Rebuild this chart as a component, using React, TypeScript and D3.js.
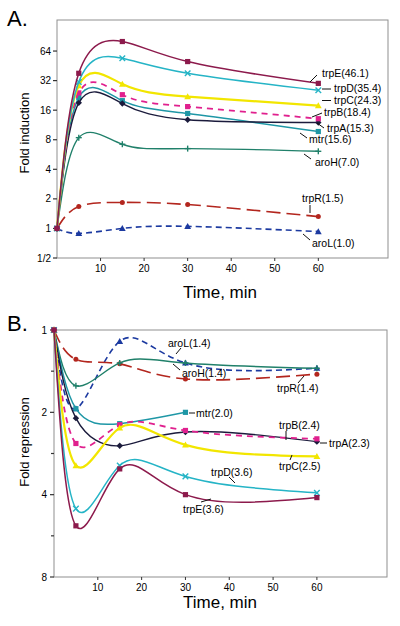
import React from 'react';
import * as d3 from 'd3';

// ---------- data ----------
const times = [0, 5, 15, 30, 60];

// Panel A: fold induction
const indTrpE = [1, 38, 80, 50, 30];
const indTrpD = [1, 31, 54, 38, 25.5];
const indTrpC = [1, 28.5, 29.5, 22, 17.8];
const indTrpB = [1, 24, 23, 17.4, 13.1];
const indTrpA = [1, 19, 18.7, 12.8, 12];
const indMtr = [1, 21.5, 20, 14.8, 9.7];
const indAroH = [1, 8.4, 7.2, 6.5, 6.1];
const indTrpR = [1, 1.67, 1.84, 1.75, 1.32];
const indAroL = [1, 0.89, 1.0, 1.05, 0.93];

// Panel B: fold repression
const repTrpE = [1, 5.2, 3.22, 4.0, 4.1];
const repTrpD = [1, 4.5, 3.13, 3.43, 3.94];
const repTrpC = [1, 3.13, 2.28, 2.63, 2.9];
const repTrpB = [1, 2.6, 2.22, 2.33, 2.5];
const repTrpA = [1, 2.1, 2.65, 2.36, 2.56];
const repMtr = [1, 1.94, 2.2, 2.0, null];
const repAroH = [1, 1.6, 1.32, 1.32, 1.38];
const repTrpR = [1, 1.28, 1.33, 1.51, 1.45];
const repAroL = [1, 1.94, 1.1, 1.32, 1.38];

const genes = ['trpE', 'trpD', 'trpC', 'trpB', 'trpA', 'mtr', 'aroH', 'trpR', 'aroL'];
const inductionSeries = [indTrpE, indTrpD, indTrpC, indTrpB, indTrpA, indMtr, indAroH, indTrpR, indAroL];
const repressionSeries = [repTrpE, repTrpD, repTrpC, repTrpB, repTrpA, repMtr, repAroH, repTrpR, repAroL];

const inductionLabels = ['trpE(46.1)', 'trpD(35.4)', 'trpC(24.3)', 'trpB(18.4)', 'trpA(15.3)', 'mtr(15.6)', 'aroH(7.0)', 'trpR(1.5)', 'aroL(1.0)'];
const repressionLabels = ['trpE(3.6)', 'trpD(3.6)', 'trpC(2.5)', 'trpB(2.4)', 'trpA(2.3)', 'mtr(2.0)', 'aroH(1.4)', 'trpR(1.4)', 'aroL(1.4)'];

const inductionTicks = [0.5, 1, 2, 4, 8, 16, 32, 64];
const inductionTickLabels = ['1/2', '1', '2', '4', '8', '16', '32', '64'];
const repressionTicks = [1, 2, 4, 8];
const repressionTickLabels = ['1', '2', '4', '8'];
const repressionMinorTicks = [Math.SQRT2, 2 * Math.SQRT2, 4 * Math.SQRT2];
const timeTicks = [10, 20, 30, 40, 50, 60];

// ---------- styles ----------
const styles: Record<string, { color: string; dash?: string; marker: string; width: number }> = {
  trpE: { color: '#8c1a4c', marker: 'square', width: 1.5 },
  trpD: { color: '#25b4c6', marker: 'x', width: 1.5 },
  trpC: { color: '#f2e600', marker: 'triangle', width: 2.2 },
  trpB: { color: '#e0208e', marker: 'square', width: 1.8, dash: '6,5' },
  trpA: { color: '#1b1b3c', marker: 'diamond', width: 1.4 },
  mtr: { color: '#1e97a6', marker: 'square', width: 1.5 },
  aroH: { color: '#20806a', marker: 'plus', width: 1.4 },
  trpR: { color: '#b3261e', marker: 'circle', width: 1.6, dash: '14,6' },
  aroL: { color: '#1c3aa0', marker: 'triangle', width: 1.6, dash: '6,4' },
};

// label layout (pixels): text anchor x, center y, leader line
const inductionLabelLayout = [
  { x: 322, y: 73, l: [310, 82, 317, 75] },
  { x: 334, y: 88.5, l: [322, 89, 331, 89] },
  { x: 334, y: 100.5, l: [322, 100.5, 331, 100.5] },
  { x: 324, y: 112.5, l: [312, 117, 322, 113] },
  { x: 327, y: 128, l: [317, 123, 324, 128] },
  { x: 309, y: 139.5, l: [300, 133, 307, 138] },
  { x: 315, y: 162, l: [304, 154, 311, 159] },
  { x: 302, y: 198, l: [310, 205, 310, 213] },
  { x: 312, y: 243, l: [303, 234, 310, 240] },
];
const repressionLabelLayout = [
  { x: 183, y: 509, l: [201, 502, 211, 499] },
  { x: 211, y: 472, l: [229, 477, 235, 483] },
  { x: 279, y: 466, l: [290, 460, 292, 455] },
  { x: 279, y: 425, l: [286, 431, 286, 440] },
  { x: 329, y: 443, l: [320, 443, 327, 443] },
  { x: 196, y: 413, l: [189, 413, 195, 413] },
  { x: 182, y: 373, l: [173, 364, 180, 370] },
  { x: 277, y: 388, l: [298, 383, 304, 376] },
  { x: 168, y: 343, l: [176, 354, 181, 348] },
];

const FONT = 'Arial, "Liberation Sans", Helvetica, sans-serif';

function Marker({ type, x, y, color }: { type: string; x: number; y: number; color: string }) {
  const s = 2.6;
  if (type === 'square') return <rect x={x - s} y={y - s} width={2 * s} height={2 * s} fill={color} />;
  if (type === 'circle') return <circle cx={x} cy={y} r={2.5} fill={color} />;
  if (type === 'diamond')
    return <path d={`M${x},${y - 3.2}L${x + 3.2},${y}L${x},${y + 3.2}L${x - 3.2},${y}Z`} fill={color} />;
  if (type === 'triangle')
    return <path d={`M${x},${y - 3.4}L${x + 3.4},${y + 2.6}L${x - 3.4},${y + 2.6}Z`} fill={color} />;
  if (type === 'x')
    return (
      <g stroke={color} strokeWidth={1.4}>
        <line x1={x - 2.8} y1={y - 2.8} x2={x + 2.8} y2={y + 2.8} />
        <line x1={x - 2.8} y1={y + 2.8} x2={x + 2.8} y2={y - 2.8} />
      </g>
    );
  return (
    <g stroke={color} strokeWidth={1.4}>
      <line x1={x - 3} y1={y} x2={x + 3} y2={y} />
      <line x1={x} y1={y - 3} x2={x} y2={y + 3} />
    </g>
  );
}

function Panel({
  x0, x1, yTop, yBottom, yDomain, reversed, series, labels, layout,
  ticks, tickLabels, minorTicks, tickLabelRight, yLabel, yLabelY, timeLabelY, letter, letterY,
}: any) {
  const x = d3.scaleLinear().domain([0, 76]).range([x0, x1]);
  const y = d3.scaleLog().base(2).domain(yDomain).range(reversed ? [yTop, yBottom] : [yBottom, yTop]);
  const axisY = yBottom;
  const line = d3
    .line<[number, number]>()
    .x((d) => x(d[0]))
    .y((d) => y(d[1]))
    .curve(d3.curveNatural);

  return (
    <g>
      <text x={7} y={letterY} fontFamily={FONT} fontSize={22}>{letter}</text>
      {/* frame */}
      <rect x={x0} y={yTop} width={x1 - x0} height={yBottom - yTop} fill="none" stroke="#8f8f8f" strokeWidth={1} />
      {/* y ticks */}
      {ticks.map((t: number, i: number) => (
        <g key={'yt' + i}>
          <line x1={x0 - 4} x2={x0} y1={y(t)} y2={y(t)} stroke="#333" strokeWidth={1.2} />
          <text x={tickLabelRight} y={y(t)} dy="0.35em" textAnchor="end" fontFamily={FONT} fontSize={10}>
            {tickLabels[i]}
          </text>
        </g>
      ))}
      {(minorTicks || []).map((t: number, i: number) => (
        <line key={'mt' + i} x1={x0 - 3} x2={x0} y1={y(t)} y2={y(t)} stroke="#333" strokeWidth={1.2} />
      ))}
      {/* x ticks */}
      {timeTicks.map((t) => (
        <g key={'xt' + t}>
          <line x1={x(t)} x2={x(t)} y1={axisY} y2={axisY + 3} stroke="#333" strokeWidth={1} />
          <text x={x(t)} y={axisY + 14} textAnchor="middle" fontFamily={FONT} fontSize={10}>{t}</text>
        </g>
      ))}
      {/* series lines */}
      {series
        .map((vals: (number | null)[], i: number) => ({ vals, i }))
        .reverse()
        .map(({ vals, i }: any) => {
          const st = styles[genes[i]];
          const pts: [number, number][] = [];
          vals.forEach((v: number | null, k: number) => {
            if (v != null) pts.push([times[k], v]);
          });
          return (
            <g key={'s' + i}>
              <path d={line(pts) || ''} fill="none" stroke={st.color} strokeWidth={st.width} strokeDasharray={st.dash} />
              {pts.map((p, k) => (
                <Marker key={k} type={st.marker} x={x(p[0])} y={y(p[1])} color={st.color} />
              ))}
            </g>
          );
        })}
      {/* labels */}
      {labels.map((lab: string, i: number) => {
        const L = layout[i];
        return (
          <g key={'lab' + i}>
            <line x1={L.l[0]} y1={L.l[1]} x2={L.l[2]} y2={L.l[3]} stroke="#111" strokeWidth={1} />
            <text x={L.x} y={L.y} dy="0.35em" fontFamily={FONT} fontSize={10.5}>{lab}</text>
          </g>
        );
      })}
      {/* axis titles */}
      <text
        transform={`translate(29,${yLabelY}) rotate(-90)`}
        textAnchor="middle"
        fontFamily={FONT}
        fontSize={13}
      >
        {yLabel}
      </text>
      <text x={220} y={timeLabelY} textAnchor="middle" fontFamily={FONT} fontSize={17}>Time, min</text>
    </g>
  );
}

export default function App() {
  return (
    <svg width={400} height={626} style={{ position: 'absolute', left: 0, top: 0, background: '#fff' }}>
      <rect x={0} y={0} width={400} height={626} fill="#fff" />
      <Panel
        x0={57} x1={388} yTop={20} yBottom={258}
        yDomain={[0.5, Math.pow(2, 7.05)]} reversed={false}
        series={inductionSeries} labels={inductionLabels} layout={inductionLabelLayout}
        ticks={inductionTicks} tickLabels={inductionTickLabels} tickLabelRight={51}
        yLabel="Fold induction" yLabelY={133} timeLabelY={298} letter="A." letterY={26}
      />
      <Panel
        x0={54} x1={387} yTop={330} yBottom={577}
        yDomain={[1, 8]} reversed={true}
        series={repressionSeries} labels={repressionLabels} layout={repressionLabelLayout}
        ticks={repressionTicks} tickLabels={repressionTickLabels} minorTicks={repressionMinorTicks}
        tickLabelRight={47}
        yLabel="Fold repression" yLabelY={442} timeLabelY={608} letter="B." letterY={331}
      />
    </svg>
  );
}
